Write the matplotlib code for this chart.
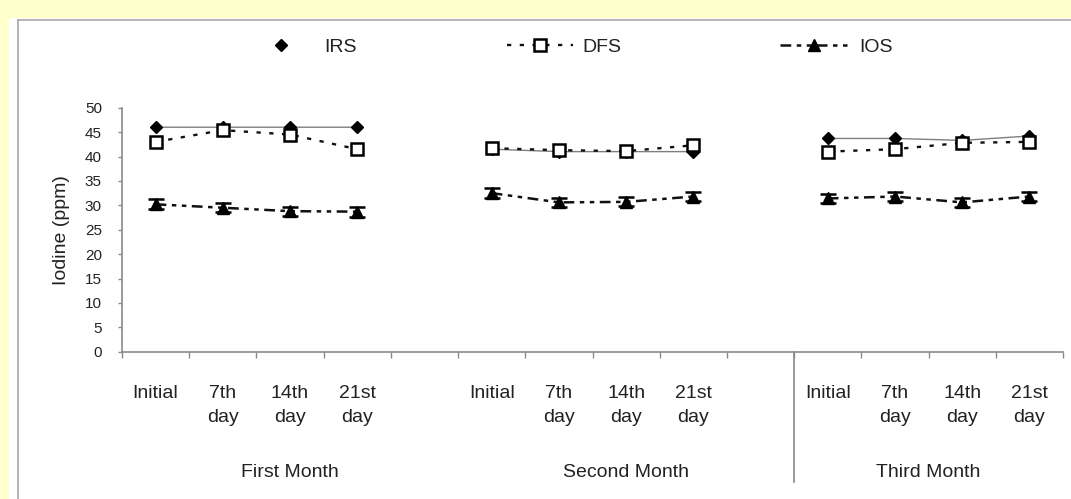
import numpy as np
import matplotlib
matplotlib.use("Agg")
import matplotlib.pyplot as plt
from matplotlib.lines import Line2D
from matplotlib.patches import Rectangle

plt.rcParams["font.family"] = ["Liberation Sans", "DejaVu Sans"]

# Categories: three months of four samplings, an empty slot after each of the first two
categories = ["Initial", "7th\nday", "14th\nday", "21st\nday", "",
              "Initial", "7th\nday", "14th\nday", "21st\nday", "",
              "Initial", "7th\nday", "14th\nday", "21st\nday"]
months = ["First Month", "Second Month", "Third Month"]
month_centers = [2.0, 7.0, 11.5]

nan = np.nan
irs = [46.0, 46.0, 46.0, 46.0, nan, 41.5, 41.0, 41.0, 41.0, nan, 43.7, 43.7, 43.3, 44.2]
dfs = [43.0, 45.4, 44.5, 41.5, nan, 41.7, 41.3, 41.1, 42.3, nan, 41.0, 41.5, 42.8, 43.0]
ios = [30.2, 29.5, 28.8, 28.7, nan, 32.5, 30.6, 30.7, 31.8, nan, 31.4, 31.8, 30.6, 31.8]
ios_err = [1.0, 0.9, 0.9, 1.0, nan, 1.0, 0.9, 0.9, 1.0, nan, 1.0, 0.9, 0.9, 1.0]

W, H = 1071, 499
txt = "#222222"
axis_gray = "#8a8a8a"

fig = plt.figure(figsize=(W / 100, H / 100), dpi=100, facecolor="#FFFFCC")
# white chart panel with its grey border
fig.add_artist(Rectangle((9 / W, 0), 1 - 9 / W, 1 - 18 / H, transform=fig.transFigure,
                         facecolor="white", edgecolor="none", zorder=0))
fig.add_artist(Line2D([18 / W, 1], [1 - 20 / H, 1 - 20 / H], transform=fig.transFigure,
                      color="#a8a8a8", lw=1.2))
fig.add_artist(Line2D([18 / W, 18 / W], [0, 1 - 20 / H], transform=fig.transFigure,
                      color="#a8a8a8", lw=1.2))

ax = fig.add_axes([122 / W, 1 - 351.7 / H, (1063 - 122) / W, 244 / H])
ax.set_facecolor("none")

x = np.arange(len(categories))

irs_style = dict(color="#7f7f7f", lw=1.0, ls="-", marker="D", ms=6.5,
                 mfc="black", mec="black")
dfs_style = dict(color="#111111", lw=1.7, ls=(0, (1.8, 3.6)), marker="s", ms=8.5,
                 mfc="white", mec="black", mew=1.8)
ios_style = dict(color="#111111", lw=1.8, ls=(0, (4.3, 2.2, 1.8, 2.2, 1.8, 2.2)),
                 marker="^", ms=8, mfc="black", mec="black")

ax.plot(x, irs, zorder=3, **irs_style)
ax.plot(x, dfs, zorder=4, **dfs_style)
ax.errorbar(x, ios, yerr=ios_err, fmt="none", ecolor="black", elinewidth=1.6,
            capsize=5.5, capthick=1.8, zorder=5)
ax.plot(x, ios, zorder=6, **ios_style)

ax.set_xlim(-0.5, len(categories) - 0.5)
ax.set_ylim(0, 50)
ax.set_yticks(np.arange(0, 51, 5))

for side in ("top", "right"):
    ax.spines[side].set_visible(False)
for side in ("left", "bottom"):
    ax.spines[side].set_color(axis_gray)
    ax.spines[side].set_linewidth(1.2)

ax.tick_params(axis="y", direction="out", length=3, width=1.0, color=axis_gray,
               labelsize=11, labelcolor=txt, pad=11.5)
ax.set_xticks(x)
ax.set_xticklabels(categories, fontsize=14, color=txt, linespacing=1.5)
ax.set_xticks(np.arange(-0.5, len(categories)), minor=True)
ax.tick_params(axis="x", which="major", length=0, pad=24)
ax.tick_params(axis="x", which="minor", direction="out", length=4, width=1.0,
               color=axis_gray)

ax.set_ylabel("Iodine (ppm)", fontsize=14, color=txt)
ax.yaxis.set_label_coords(-0.0553, 0.5)

# month group labels and the divider before the third month
for name, cx in zip(months, month_centers):
    ax.text(cx, -0.497, name, transform=ax.get_xaxis_transform(), ha="center",
            va="center", fontsize=14, color=txt)
ax.plot([9.5, 9.5], [0, -0.534], transform=ax.get_xaxis_transform(),
        color=axis_gray, lw=1.2, clip_on=False)

# legend entries along the top
leg_y = 1 - 47 / H
h_irs = Line2D([], [], ls="none", marker="D", ms=6.5, mfc="black", mec="black")
h_dfs = Line2D([], [], **dfs_style)
h_ios = Line2D([], [], **ios_style)
for handle, label, left, hlen, tpad in [(h_irs, "IRS", 262, 2.0, 1.2),
                                        (h_dfs, "DFS", 507, 3.4, 0.5),
                                        (h_ios, "IOS", 780, 3.5, 0.6)]:
    leg = fig.legend([handle], [label], loc="center left",
                     bbox_to_anchor=(left / W, leg_y), frameon=False, fontsize=14,
                     handlelength=hlen, handletextpad=tpad, borderpad=0,
                     borderaxespad=0, numpoints=1)
    for t in leg.get_texts():
        t.set_color(txt)

fig.savefig("out.png", dpi=100, facecolor=fig.get_facecolor())
